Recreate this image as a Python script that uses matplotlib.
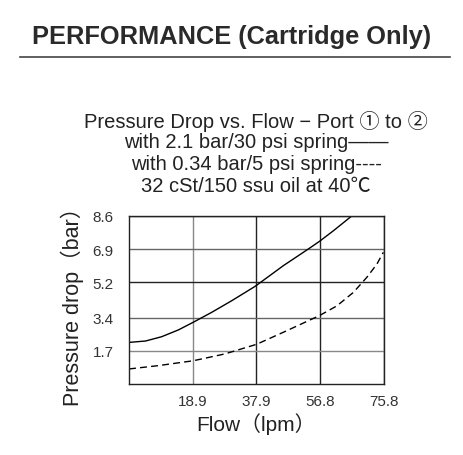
import numpy as np
import matplotlib
matplotlib.use('Agg')
import matplotlib.pyplot as plt

# data
flow_30psi = [0, 4.9, 9.7, 14.7, 19.1, 24.6, 30.5, 37.5, 45.9, 53.3, 56.6, 60.8, 65.7, 66.2]
dp_30psi = [2.13, 2.2, 2.42, 2.77, 3.16, 3.67, 4.26, 5.0, 6.06, 6.91, 7.3, 7.85, 8.53, 8.6]

flow_5psi = [0, 8.7, 19.1, 28.5, 37.9, 45.9, 56.6, 61.8, 66.7, 70.7, 73.7, 75.6]
dp_5psi = [0.77, 0.94, 1.19, 1.54, 2.03, 2.65, 3.5, 4.0, 4.69, 5.46, 6.14, 6.74]

x_ticks = [18.9, 37.9, 56.8, 75.8]
y_ticks = [1.7, 3.4, 5.2, 6.9, 8.6]

fonts = ['Liberation Sans', 'Noto Sans CJK SC', 'DejaVu Sans']
plt.rcParams['font.family'] = fonts

fig = plt.figure(figsize=(4.64, 4.56), dpi=100)

# header
fig.text(0.5, 1 - 37 / 456, 'PERFORMANCE (Cartridge Only)', ha='center', va='center',
         fontsize=18.3, fontweight='bold', color='#2a2a2a')
fig.add_artist(plt.Line2D([20 / 464, 450 / 464], [1 - 58 / 456, 1 - 58 / 456],
                          color='#444444', lw=1.2))

# chart title block
title_lines = ['Pressure Drop vs. Flow \u2212 Port \u2460 to \u2461',
               'with 2.1 bar/30 psi spring\u2014\u2014',
               'with 0.34 bar/5 psi spring----',
               '32 cSt/150 ssu oil at 40\u2103']
for i, line in enumerate(title_lines):
    fig.text(256 / 464, 1 - (121 + 22 * i) / 456, line, ha='center', va='center',
             fontsize=14.5, color='#222222')

ax = fig.add_axes([129 / 464, 1 - 385 / 456, 255 / 464, 168 / 456])
ax.plot(flow_30psi, dp_30psi, color='black', lw=1.0)
ax.plot(flow_5psi, dp_5psi, color='black', lw=1.0, dashes=(5, 3))

ax.set_xlim(0, 75.8)
ax.set_ylim(0, 8.6)
ax.set_xticks(x_ticks)
ax.set_yticks(y_ticks)
ax.set_xticklabels([str(v) for v in x_ticks])
ax.set_yticklabels([str(v) for v in y_ticks])
ax.tick_params(length=0, labelsize=11, colors='#333333', pad=7)
ax.tick_params(axis='y', pad=11)
ax.grid(True, lw=1.0)
for gl, c in zip(ax.get_xgridlines(), ['#888888', '#222222', '#222222', '#222222']):
    gl.set_color(c)
for gl, c in zip(ax.get_ygridlines(), ['#888888', '#666666', '#222222', '#666666', '#222222']):
    gl.set_color(c)
for s in ax.spines.values():
    s.set_color('#222222')
    s.set_linewidth(1.0)

ax.set_xlabel('Flow\uff08lpm\uff09', fontsize=15, color='#222222', labelpad=3)
ax.set_ylabel('Pressure drop\uff08bar\uff09', fontsize=15.5, color='#222222', labelpad=6)

fig.savefig('out.png', dpi=100)
